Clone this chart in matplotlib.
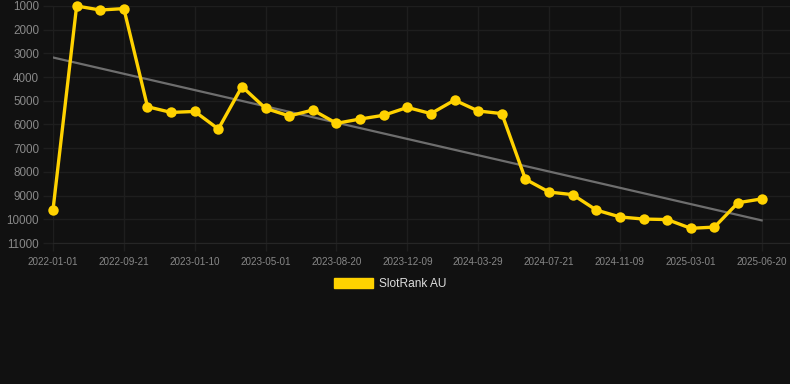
import matplotlib.pyplot as plt
import numpy as np
from matplotlib.patches import Patch

plt.rcParams['font.family'] = ['Liberation Sans', 'DejaVu Sans']

dates = ['2022-01-01', '2022-04-30', '2022-07-10', '2022-09-21',
         '2022-10-28', '2022-12-04', '2023-01-10',
         '2023-02-16', '2023-03-25', '2023-05-01',
         '2023-06-07', '2023-07-14', '2023-08-20',
         '2023-09-26', '2023-11-02', '2023-12-09',
         '2024-01-15', '2024-02-21', '2024-03-29',
         '2024-05-06', '2024-06-13', '2024-07-21',
         '2024-08-27', '2024-10-03', '2024-11-09',
         '2024-12-16', '2025-01-22', '2025-03-01',
         '2025-04-07', '2025-05-14', '2025-06-20']
ranks = [9600, 1000, 1170, 1110,
         5250, 5490, 5450,
         6190, 4400, 5320,
         5640, 5390, 5950,
         5770, 5610, 5280,
         5540, 4970, 5430,
         5540, 8310, 8850,
         8960, 9610, 9900,
         9990, 10010, 10380,
         10330, 9300, 9140]
yticks = [1000, 2000, 3000, 4000, 5000, 6000, 7000, 8000, 9000, 10000, 11000]

bg = '#111111'
grid = '#1e1e1e'
yellow = '#FFD200'

fig = plt.figure(figsize=(7.9, 3.84), dpi=100, facecolor=bg)
ax = fig.add_axes([53 / 790, 141 / 384, 737 / 790, 237 / 384])
ax.set_facecolor(bg)

x = np.arange(len(ranks))

# trend line (least squares fit)
k, b = np.polyfit(x, ranks, 1)
ax.plot(x, k * x + b, color='#6e6e6e', linewidth=1.6, zorder=2)

ax.plot(x, ranks, color=yellow, linewidth=2.4, marker='o', markersize=7.5,
        markeredgewidth=0, zorder=3, clip_on=False)

ax.set_xlim(0, 31.2)
ax.set_ylim(11000, 1000)
ax.set_yticks(yticks)
ax.set_yticklabels([str(t) for t in yticks])
ax.set_xticks(x[::3])
ax.set_xticklabels(dates[::3])

ax.grid(True, color=grid, linewidth=1)
ax.set_axisbelow(True)
for s in ax.spines.values():
    s.set_visible(False)
ax.spines['bottom'].set_visible(True)
ax.spines['bottom'].set_color('#262626')
ax.tick_params(axis='y', colors=grid, labelcolor='#888888', labelsize=8.4,
               length=7, width=1, pad=3)
ax.tick_params(axis='x', colors=grid, labelcolor='#888888', labelsize=7.1,
               length=6, width=1, pad=4)

leg = ax.legend(handles=[Patch(facecolor=yellow, edgecolor=yellow, label='SlotRank AU')],
                loc='center', bbox_to_anchor=(390 / 790, 100 / 384),
                bbox_transform=fig.transFigure, frameon=False,
                fontsize=8.6, handlelength=3.3, handleheight=1.0,
                handletextpad=0.5)
for t in leg.get_texts():
    t.set_color('#dddddd')

plt.savefig('out.png', dpi=100, facecolor=bg)
